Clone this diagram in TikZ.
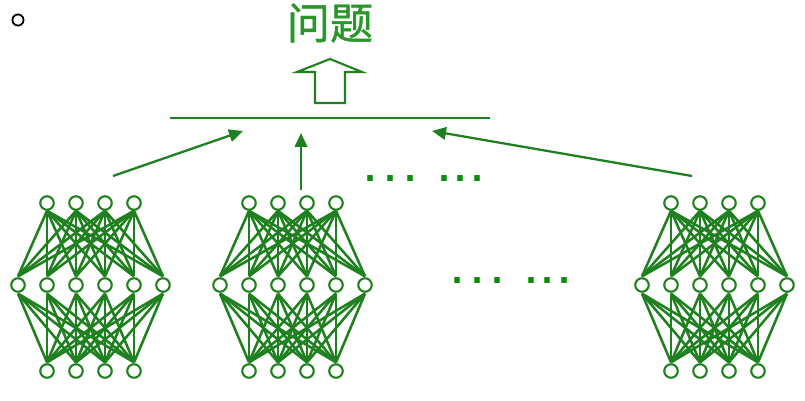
\documentclass[tikz,border=0pt]{standalone}
\usepackage{fontspec}
\newfontfamily\cjk{Noto Sans CJK SC}
\newfontfamily\cjkbold[FakeBold=1]{Noto Sans CJK SC}
\newfontfamily\ringfont[FakeBold=5]{DejaVu Sans}
\newfontfamily\dotfont{DejaVu Sans}
\usetikzlibrary{arrows.meta}
\definecolor{netgreen}{RGB}{30,128,30}
\definecolor{titlegreen}{RGB}{40,150,40}
\definecolor{dotgreen}{RGB}{16,140,16}
\tikzstyle{neuron} = [circle, draw=netgreen, line width=1.2pt, fill=white, minimum size=0.27cm, inner sep=0pt]
\tikzstyle{link} = [draw=netgreen, line width=1.45pt]
\tikzstyle{arr} = [-{Triangle[length=0.28cm, width=0.25cm]}, draw=netgreen, fill=netgreen, line width=1.3pt]
\tikzstyle{dots} = [text=dotgreen, font=\dotfont\bfseries\fontsize{18}{18}\selectfont, inner sep=0pt, anchor=base]
\newcommand\dotrow{.\kern4.5pt.\kern4.5pt.\kern12.5pt.\kern2.5pt.\kern2.5pt.}

\begin{document}
\begin{tikzpicture}[x=0.02cm, y=-0.02cm]
\useasboundingbox (0,0) rectangle (805,401);
\node[font=\ringfont\fontsize{9}{9}\selectfont, inner sep=0pt] (ring) at (18,20) {○};
\node[font=\cjkbold\fontsize{24.5}{24.5}\selectfont, text=titlegreen, inner sep=0pt] (title) at (330,23) {问题};

% block arrow up
\draw[netgreen, line width=1.2pt] (315,103) -- (315,72) -- (297,72) -- (330,59) -- (362,72) -- (345,72) -- (345,103) -- cycle;

% bar
\coordinate (barL) at (170,118);
\coordinate (barR) at (490,118);
\draw[netgreen, line width=1.3pt] (barL) -- (barR);

% the three networks
\foreach \k/\dx in {1/0, 2/202, 3/624} {
  \foreach \i in {1,...,6}
    \node[neuron] (m\k-\i) at (\dx+29*\i-11, 285) {};
  \foreach \j in {1,...,4} {
    \node[neuron] (t\k-\j) at (\dx+29*\j+18, 203) {};
    \node[neuron] (b\k-\j) at (\dx+29*\j+18, 371) {};
  }
  \foreach \j in {1,...,4}
    \foreach \i in {1,...,6} {
      \draw[link] (t\k-\j.south) -- ([yshift=0.5pt]m\k-\i.north);
      \draw[link] ([yshift=-0.5pt]m\k-\i.south) -- ([yshift=0.5pt]b\k-\j.north);
    }
}

% arrows to the bar
\coordinate (s1) at (113,176);
\coordinate (e1) at (243,131);
\coordinate (s2) at (301,190);
\coordinate (e2) at (301,133);
\coordinate (s3) at (692,176);
\coordinate (e3) at (432,131);
\draw[arr] (s1) -- (e1);
\draw[arr] (s2) -- (e2);
\draw[arr] (s3) -- (e3);

% ellipses
\node[dots] (dotsA) at (424,182) {\dotrow};
\node[dots] (dotsB) at (511,284) {\dotrow};
\end{tikzpicture}
\end{document}
